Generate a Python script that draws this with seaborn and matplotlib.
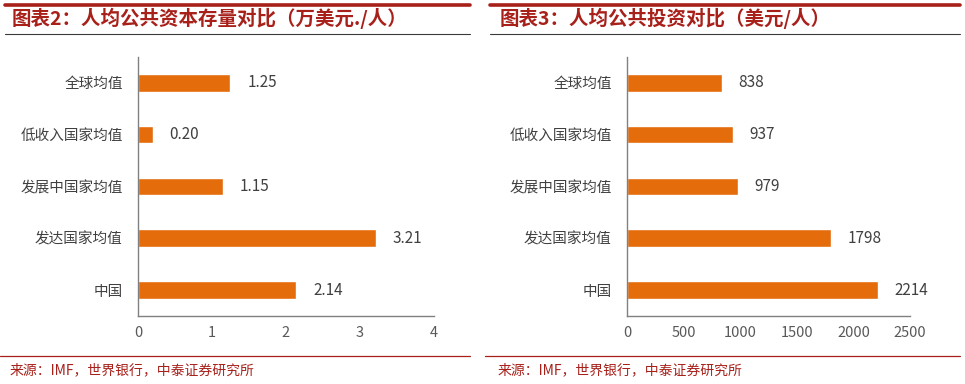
import matplotlib
matplotlib.use("Agg")
import matplotlib.pyplot as plt
from matplotlib.lines import Line2D
from matplotlib.ticker import FixedLocator
import seaborn as sns
import pandas as pd

categories = ["全球均值", "低收入国家均值", "发展中国家均值", "发达国家均值", "中国"]
capital_stock = [1.25, 0.20, 1.15, 3.21, 2.14]
investment = [838, 937, 979, 1798, 2214]
left_ticks = [0, 1, 2, 3, 4]
right_ticks = [0, 500, 1000, 1500, 2000, 2500]
left_title = "图表2：人均公共资本存量对比（万美元./人）"
right_title = "图表3：人均公共投资对比（美元/人）"
source = "来源：IMF，世界银行，中泰证券研究所"

sns.set_style("white")
plt.rcParams['font.family'] = ['Noto Sans CJK SC', 'DejaVu Sans']

BAR = "#E46C0A"
RED = "#A8201A"

fig = plt.figure(figsize=(9.65, 3.84), dpi=100)

def panel(rect, values, ticks, fmt):
    ax = fig.add_axes(rect)
    df = pd.DataFrame({"cat": categories, "val": values})
    sns.barplot(data=df, y="cat", x="val", orient="h", color=BAR, width=0.34,
                saturation=1, ax=ax)
    ax.set_xlim(ticks[0], ticks[-1])
    ax.set_ylim(len(categories) - 0.5, -0.5)
    ax.set_xticks(ticks)
    ax.set_xlabel("")
    ax.set_ylabel("")
    for s in ["top", "right"]:
        ax.spines[s].set_visible(False)
    for s in ["left", "bottom"]:
        ax.spines[s].set_color("#808080")
        ax.spines[s].set_linewidth(1.0)
    ax.tick_params(axis="x", direction="inout", length=6, color="#808080",
                   labelsize=10.5, labelcolor="#595959", pad=4)
    ax.tick_params(axis="y", which="major", length=0, labelsize=10.5,
                   labelcolor="#404040", pad=11)
    ax.yaxis.set_minor_locator(FixedLocator([i - 0.5 for i in range(len(categories) + 1)]))
    ax.tick_params(axis="y", which="minor", length=4, direction="out", color="#808080")
    labels = [fmt(v) for v in values]
    ax.bar_label(ax.containers[0], labels=labels, padding=12, fontsize=11,
                 color="#404040")
    return ax

panel([0.143, 0.177, 0.3067, 0.675], capital_stock, left_ticks, lambda v: f"{v:.2f}")
panel([0.6497, 0.177, 0.2933, 0.675], investment, right_ticks, lambda v: f"{v:d}")

def hline(x0, x1, y, color, lw):
    fig.add_artist(Line2D([x0, x1], [y, y], transform=fig.transFigure,
                          color=color, linewidth=lw))

for (x0, x1, tx, title) in [(0.005, 0.487, 0.012, left_title),
                            (0.508, 0.995, 0.518, right_title)]:
    hline(x0, x1, 0.987, RED, 2.6)
    hline(x0, x1, 0.911, "#3a3a3a", 0.8)
    hline(x0 - 0.005, x1, 0.073, RED, 0.9)
    fig.text(tx, 0.951, title, color=RED, fontsize=14, fontweight="bold",
             style="italic", va="center", ha="left")
    fig.text(tx - 0.002, 0.036, source, color=RED, fontsize=10,
             va="center", ha="left")

fig.savefig("out.png", dpi=100)
